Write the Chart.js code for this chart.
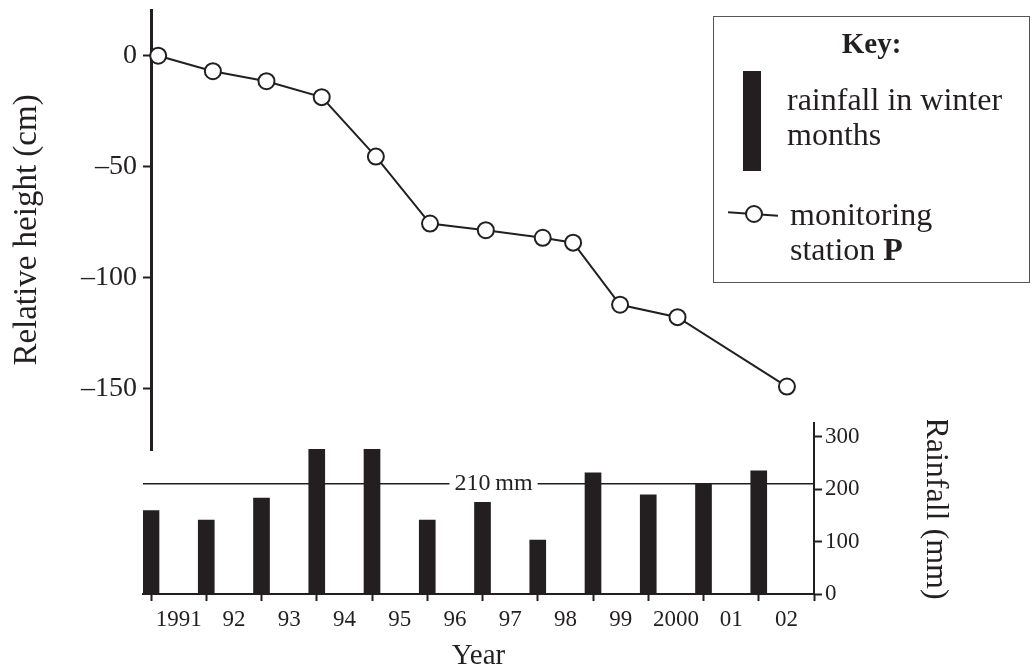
<!DOCTYPE html>
<html>
<head>
<meta charset="utf-8">
<script src="https://cdn.jsdelivr.net/npm/chart.js@4.4.0/dist/chart.umd.min.js"></script>
<style>
  html, body { margin: 0; padding: 0; background: #fff; }
  body {
    width: 1035px; height: 669px; position: relative; overflow: hidden;
    font-family: "Liberation Serif", "Times New Roman", serif; color: #231f20;
  }
  canvas { position: absolute; left: 0; }
  #heightChart { top: 0; }
  #rainChart { top: 420px; }
  #key {
    position: absolute; left: 713px; top: 16px; width: 317px; height: 267px;
    border: 1.5px solid #555; box-sizing: border-box;
    font-size: 32px; line-height: 35px;
  }
  #key .title { position: absolute; left: 0; right: 0; top: 9px; text-align: center; font-weight: bold; font-size: 29px; }
  #key .bar { position: absolute; left: 29px; top: 54px; width: 18px; height: 100px; background: #231f20; }
  #key .rainText { position: absolute; left: 73px; top: 65px; }
  #key .lineMark { position: absolute; left: 14px; top: 196px; width: 50px; height: 2px; background: #231f20; transform: rotate(4deg); }
  #key .dot { position: absolute; left: 31px; top: 188px; width: 14px; height: 14px; border: 2px solid #231f20; border-radius: 50%; background: #fff; }
  #key .stationText { position: absolute; left: 76px; top: 180px; }
</style>
</head>
<body>
<canvas id="heightChart" width="1035" height="460"></canvas>
<canvas id="rainChart" width="1035" height="249"></canvas>
<div id="key">
  <div class="title">Key:</div>
  <div class="bar"></div>
  <div class="rainText">rainfall in winter<br>months</div>
  <div class="lineMark"></div>
  <div class="dot"></div>
  <div class="stationText">monitoring<br>station <b>P</b></div>
</div>
<script>
const INK = "#231f20";
const SERIF = '"Liberation Serif", "Times New Roman", serif';

// monitoring station P: survey dates (decimal year) and relative height (cm)
const stationYears = [1991.13, 1992.12, 1993.09, 1994.09, 1995.07, 1996.05, 1997.06, 1998.09, 1998.64, 1999.49, 2000.53, 2002.51];
const stationHeight = [0, -7, -11.5, -18.7, -45.5, -75.7, -78.7, -82.1, -84.3, -112.3, -117.9, -149.2];
const heightTicks = [0, -50, -100, -150];

// winter rainfall (mm), one bar per year
const rainYears = [1991, 1992, 1993, 1994, 1995, 1996, 1997, 1998, 1999, 2000, 2001, 2002];
const rainfall = [159, 141, 183, 276, 276, 141, 175, 103, 231, 189, 210, 235];
const rainTicks = [0, 100, 200, 300];
const yearLabels = ["1991", "92", "93", "94", "95", "96", "97", "98", "99", "2000", "01", "02"];
const RAIN_REFERENCE = 210;

Chart.defaults.font.family = SERIF;
Chart.defaults.color = INK;

new Chart(document.getElementById("heightChart"), {
  type: "line",
  data: {
    datasets: [{
      label: "monitoring station P",
      data: stationYears.map((x, i) => ({ x: x, y: stationHeight[i] })),
      borderColor: INK,
      borderWidth: 2,
      pointRadius: 8,
      pointBorderWidth: 2,
      pointBackgroundColor: "#fff",
      pointBorderColor: INK,
      tension: 0,
      clip: false
    }]
  },
  options: {
    responsive: false,
    animation: false,
    devicePixelRatio: 1,
    layout: { padding: { left: 0, right: 221, top: 10, bottom: 7 } },
    plugins: { legend: { display: false }, tooltip: { enabled: false } },
    scales: {
      x: { type: "linear", min: 1991, max: 2003, display: false },
      y: {
        min: -177.8,
        max: 20.6,
        afterBuildTicks: (s) => { s.ticks = heightTicks.map(v => ({ value: v })); },
        afterFit: (s) => { s.width = 151; s.paddingTop = 0; s.paddingBottom = 0; },
        border: { color: INK, width: 3 },
        grid: { drawOnChartArea: false, tickLength: 8, tickWidth: 2, tickColor: INK },
        ticks: {
          color: INK,
          font: { size: 28 },
          padding: 6,
          callback: (v) => v < 0 ? "\u2013" + Math.abs(v) : String(v)
        },
        title: {
          display: true,
          text: "Relative height (cm)",
          color: INK,
          font: { size: 33 },
          padding: { top: 8, bottom: 0 }
        }
      }
    }
  }
});

// 210 mm reference line with its label sitting in a gap
const refLine = {
  id: "refLine",
  beforeDatasetsDraw(chart) {
    const { ctx, chartArea, scales } = chart;
    const y = scales.y.getPixelForValue(RAIN_REFERENCE);
    const cx = scales.x.getPixelForValue(1997.2);
    const text = RAIN_REFERENCE + "\u2009mm";
    ctx.save();
    ctx.font = "24px " + SERIF;
    const w = ctx.measureText(text).width;
    ctx.strokeStyle = INK;
    ctx.lineWidth = 1.5;
    ctx.beginPath();
    ctx.moveTo(chartArea.left, y);
    ctx.lineTo(cx - w / 2 - 5, y);
    ctx.moveTo(cx + w / 2 + 5, y);
    ctx.lineTo(chartArea.right, y);
    ctx.stroke();
    ctx.fillStyle = INK;
    ctx.textAlign = "center";
    ctx.textBaseline = "middle";
    ctx.fillText(text, cx, y);
    ctx.restore();
  }
};

new Chart(document.getElementById("rainChart"), {
  type: "bar",
  data: {
    datasets: [{
      label: "rainfall in winter months",
      data: rainYears.map((x, i) => ({ x: x, y: rainfall[i] })),
      backgroundColor: INK,
      borderWidth: 0,
      barThickness: 16
    }]
  },
  options: {
    responsive: false,
    animation: false,
    devicePixelRatio: 1,
    layout: { padding: { left: 143, right: 0, top: 3, bottom: 0 } },
    plugins: { legend: { display: false }, tooltip: { enabled: false } },
    scales: {
      x: {
        type: "linear",
        min: 1990.855,
        max: 2003,
        offset: false,
        afterBuildTicks: (s) => {
          const t = [];
          for (let i = 0; i <= 24; i++) t.push({ value: 1991 + i * 0.5 });
          s.ticks = t;
        },
        afterFit: (s) => { s.height = 75; s.paddingLeft = 0; s.paddingRight = 0; },
        border: { color: INK, width: 2 },
        grid: {
          offset: false,
          drawOnChartArea: false,
          tickLength: 7,
          tickWidth: 2,
          tickColor: (c) => Number.isInteger(c.tick.value) ? INK : "rgba(0,0,0,0)"
        },
        ticks: {
          autoSkip: false,
          maxRotation: 0,
          color: INK,
          font: { size: 23 },
          padding: 5,
          callback: (v) => Number.isInteger(v) ? "" : yearLabels[Math.floor(v) - 1991]
        },
        title: {
          display: true,
          text: "Year",
          color: INK,
          font: { size: 29, lineHeight: 1 },
          padding: { top: 0, bottom: -2 }
        }
      },
      y: {
        position: "right",
        min: 0,
        max: 326,
        afterBuildTicks: (s) => { s.ticks = rainTicks.map(v => ({ value: v })); },
        afterFit: (s) => { s.width = 221; s.paddingTop = 0; s.paddingBottom = 0; },
        border: { color: INK, width: 2 },
        grid: { drawOnChartArea: false, tickLength: 8, tickWidth: 2, tickColor: INK },
        ticks: { color: INK, font: { size: 23 }, padding: 3 },
        title: {
          display: true,
          text: "Rainfall (mm)",
          color: INK,
          font: { size: 32 },
          padding: { top: 80, bottom: 0 }
        }
      }
    }
  },
  plugins: [refLine]
});
</script>
</body>
</html>
